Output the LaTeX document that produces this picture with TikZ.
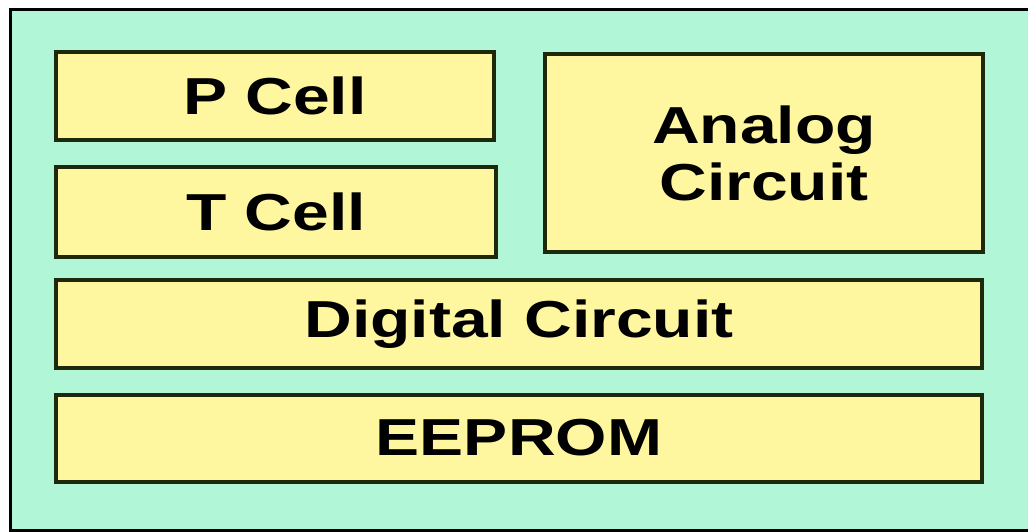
\documentclass[tikz,border=0pt]{standalone}
\usepackage{fontspec}
\newfontfamily\labelfont[FakeStretch=1.27]{Liberation Sans}
\definecolor{mint}{RGB}{178,246,216}
\definecolor{cellfill}{RGB}{255,247,160}
\definecolor{edge}{RGB}{30,40,10}
\tikzset{
  cellbox/.style={draw=edge, fill=cellfill, line width=4pt, inner sep=0pt,
    align=center, font=\labelfont\bfseries\fontsize{52}{57}\selectfont},
  frame/.style={draw=black, line width=3pt}
}
\begin{document}
\begin{tikzpicture}[x=1pt,y=-1pt]
  \useasboundingbox (0,0) rectangle (1028,532);
  \clip (0,0) rectangle (1028,532);
  \fill[white] (0,0) rectangle (1028,532);
  % chip area
  \fill[mint] (10.5,10) rectangle (1040,530.5);
  \draw[frame] (1040,10) -- (10.5,10) -- (10.5,530.5) -- (1040,530.5);
  % blocks
  \node[cellbox, minimum width=438pt, minimum height=88pt] (pcell) at (275,96) {P Cell};
  \node[cellbox, minimum width=440pt, minimum height=90pt] (tcell) at (276,212) {T Cell};
  \node[cellbox, minimum width=438pt, minimum height=197pt] (analog) at (764,153) {Analog\\Circuit};
  \node[cellbox, minimum width=926pt, minimum height=88pt] (digital) at (519,324) {Digital Circuit};
  \node[cellbox, minimum width=926pt, minimum height=87pt] (eeprom) at (519,438) {EEPROM};
\end{tikzpicture}
\end{document}
